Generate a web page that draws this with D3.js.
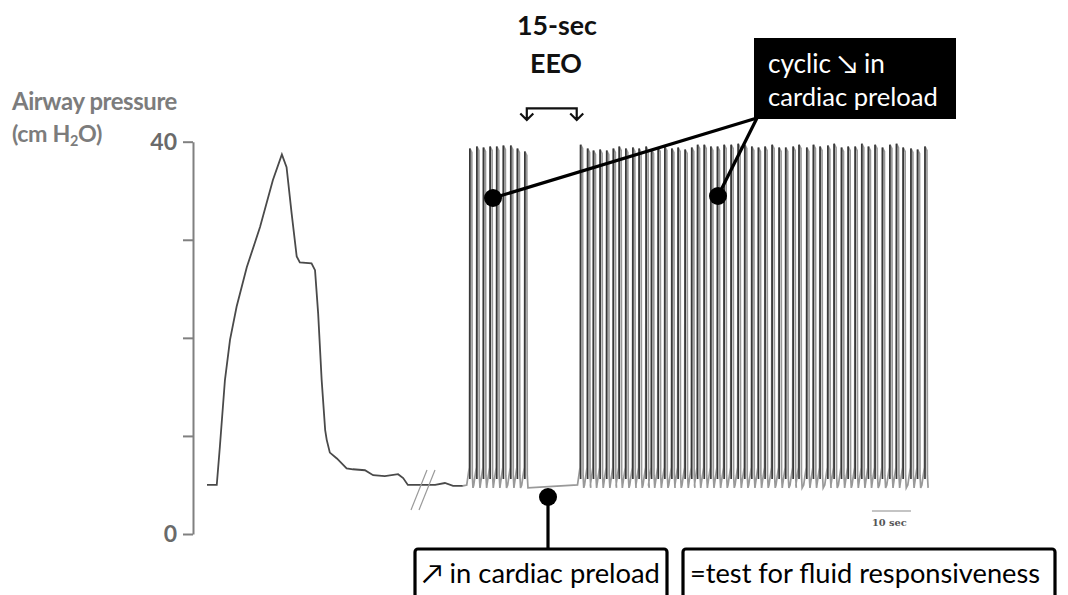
<!DOCTYPE html>
<html>
<head>
<meta charset="utf-8">
<script src="https://cdn.jsdelivr.net/npm/d3@7"></script>
<style>
body { margin: 0; background: #fff; }
svg { display: block; }
</style>
</head>
<body>
<script>
// slow breath before the break : time (s) / airway pressure (cm H2O)
let slowTime = [0, 2.5, 3.3, 4.6, 5.9, 7.6, 10.2, 13.6, 16.9, 19.2, 20.4, 21.7, 23.0, 23.8, 26.8, 27.7, 28.5, 29.4, 30.3, 30.7, 31.5, 33.3, 35.8, 37.4, 40.5, 42.6, 45.6, 49.0, 50.3, 51.5, 54.1, 58.5, 61.0, 63.1, 65.6];
let slowPressure = [5.0, 5.0, 8.9, 15.7, 19.8, 23.2, 27.2, 31.3, 36.1, 38.7, 37.4, 32.7, 28.3, 27.7, 27.6, 26.9, 22.5, 15.7, 10.6, 9.6, 8.3, 7.7, 6.7, 6.6, 6.5, 6.0, 5.9, 6.1, 5.7, 5.0, 5.0, 5.0, 5.2, 4.9, 4.9];

// ventilator breaths : onset time (s) and peak pressure (cm H2O)
let breathTime = [67.4, 69.2, 70.9, 72.6, 74.3, 76.0, 77.9, 79.6, 81.5,
  95.8, 97.6, 99.1, 100.8, 102.5, 104.2, 105.7, 107.4, 109.2, 110.8, 112.6, 114.0, 115.7, 117.4, 119.2, 120.8, 122.6, 124.3,
  125.8, 127.5, 129.2, 130.9, 132.6, 134.4, 136.2, 137.9, 139.7, 141.4, 143.1, 144.9, 146.7, 148.4, 150.3, 151.8, 153.8, 155.5,
  157.2, 159.2, 160.8, 162.7, 164.4, 166.2, 167.9, 169.6, 171.3, 173.2, 175.1, 176.8, 178.5, 180.5, 182.2, 184.1];
let breathPeak = [39.3, 39.5, 39.4, 39.5, 39.5, 39.6, 39.6, 39.3, 39.0,
  39.7, 39.3, 39.1, 39.2, 39.1, 39.3, 39.5, 39.3, 39.4, 39.3, 39.5, 39.2, 39.4, 39.5, 39.3, 39.4, 39.2, 39.4,
  39.7, 39.7, 39.5, 39.5, 39.7, 39.7, 39.8, 39.7, 39.5, 39.4, 39.5, 39.7, 39.4, 39.4, 39.5, 39.7, 39.4, 39.7,
  39.5, 39.6, 39.8, 39.4, 39.5, 39.5, 39.8, 39.5, 39.7, 39.4, 39.7, 39.8, 39.4, 39.3, 39.2, 39.5];

let yTicks = [0, 10, 20, 30, 40];
let eeo = [82.0, 94.8];   // end-expiratory occlusion
let scaleBarStart = 170.5, scaleBarSec = 10;

// shape of one breath relative to its onset
let shapeDt = [-0.8, -0.15, 0, 0.5, 0.62, 0.8];

let svg = d3.select("body").append("svg").attr("width", 1068).attr("height", 595);

let x = d3.scaleLinear().domain([0, 185]).range([207, 928.5]);
let y = d3.scaleLinear().domain([0, 40]).range([534, 141.7]);

function fit(sel, w) {
  let s = parseFloat(sel.attr("font-size"));
  let l = sel.node().getComputedTextLength();
  sel.attr("font-size", (s * w / l).toFixed(2));
}

// y axis
let ax = svg.append("g")
  .attr("transform", "translate(193,0)")
  .call(d3.axisLeft(y).tickValues(yTicks).tickSize(10).tickSizeOuter(0).tickPadding(6)
    .tickFormat(d => (d == 0 || d == 40) ? d : ""));
ax.selectAll("path, line").attr("stroke", "#808080").attr("stroke-width", 2);
ax.selectAll("text").attr("font-family", "Lato").attr("font-weight", "bold")
  .attr("font-size", 23).attr("fill", "#6a6a6a");

svg.append("text").attr("x", 12).attr("y", 110).attr("font-family", "Lato")
  .attr("font-weight", "bold").attr("font-size", 18).attr("fill", "#7c7c7c")
  .attr("letter-spacing", -0.4).text("Airway pressure").call(fit, 163);
let unit = svg.append("text").attr("x", 12).attr("y", 142).attr("font-family", "Lato")
  .attr("font-weight", "bold").attr("font-size", 18).attr("fill", "#7c7c7c").attr("letter-spacing", -0.4);
unit.append("tspan").text("(cm H");
unit.append("tspan").attr("font-size", "0.62em").attr("dy", 4).text("2");
unit.append("tspan").attr("dy", -4).text("O)");
unit.call(fit, 89);

let line = d3.line().x(d => x(d[0])).y(d => y(d[1]));

// slow breath
let slow = slowTime.map((t, i) => [t, slowPressure[i]]);
svg.append("path").attr("d", line(slow)).attr("fill", "none")
  .attr("stroke", "#4a4a4a").attr("stroke-width", 1.8);

// ventilator breaths
let pts = [slow[slow.length - 1]];
breathTime.forEach((t, i) => {
  let pk = breathPeak[i];
  let shapeP = [5.0, 6.8, pk, pk - 0.4, 6.0, 4.7];
  shapeDt.forEach((dt, k) => pts.push([t + dt, shapeP[k]]));
});
svg.append("path").attr("d", line(pts)).attr("fill", "none")
  .attr("stroke", "#999").attr("stroke-width", 1.7);
svg.selectAll(".up").data(breathTime).enter().append("line")
  .attr("class", "up")
  .attr("x1", d => x(d)).attr("x2", d => x(d))
  .attr("y1", y(5.6)).attr("y2", (d, i) => y(breathPeak[i]))
  .attr("stroke", "#383838").attr("stroke-width", 1.7);

// break marks
[[411, 427], [419, 435]].forEach(b => {
  svg.append("line").attr("x1", b[0]).attr("y1", 510).attr("x2", b[1]).attr("y2", 470)
    .attr("stroke", "#9a9a9a").attr("stroke-width", 1.2);
});

// scale bar
svg.append("line").attr("x1", x(scaleBarStart)).attr("x2", x(scaleBarStart + scaleBarSec))
  .attr("y1", 511).attr("y2", 511).attr("stroke", "#b0b0b0").attr("stroke-width", 1.5);
svg.append("text").attr("x", x(scaleBarStart)).attr("y", 526)
  .attr("font-family", "DejaVu Serif").attr("font-weight", "bold").attr("font-size", 10)
  .attr("fill", "#555").text("10 sec").call(fit, 35);

// EEO label and bracket
svg.append("text").attr("x", 557).attr("y", 35).attr("text-anchor", "middle")
  .attr("font-family", "Lato").attr("font-weight", "bold").attr("font-size", 26)
  .attr("fill", "#111").text("15-sec").call(fit, 80);
svg.append("text").attr("x", 556).attr("y", 73).attr("text-anchor", "middle")
  .attr("font-family", "Lato").attr("font-weight", "bold").attr("font-size", 26)
  .attr("fill", "#111").text("EEO").call(fit, 52);
let b0 = x(eeo[0]), b1 = x(eeo[1]);
svg.append("path")
  .attr("d", `M${b0},120V108.3H${b1}V120 M${b0 - 6.5},113.5L${b0},120L${b0 + 6.5},113.5 M${b1 - 6.5},113.5L${b1},120L${b1 + 6.5},113.5`)
  .attr("fill", "none").attr("stroke", "#111").attr("stroke-width", 2.2);

// top callout
svg.append("line").attr("x1", 757).attr("y1", 118).attr("x2", 493).attr("y2", 198)
  .attr("stroke", "#000").attr("stroke-width", 3.2);
svg.append("line").attr("x1", 757).attr("y1", 118).attr("x2", 718).attr("y2", 196)
  .attr("stroke", "#000").attr("stroke-width", 3.2);
svg.append("circle").attr("cx", 493).attr("cy", 198).attr("r", 9).attr("fill", "#000");
svg.append("circle").attr("cx", 718).attr("cy", 196).attr("r", 9).attr("fill", "#000");
svg.append("rect").attr("x", 754).attr("y", 38).attr("width", 202).attr("height", 81).attr("fill", "#000");
svg.append("text").attr("x", 768).attr("y", 73).attr("font-family", "Lato")
  .attr("font-size", 24).attr("fill", "#fff").text("cyclic \u2198 in").call(fit, 117);
svg.append("text").attr("x", 768).attr("y", 106).attr("font-family", "Lato")
  .attr("font-size", 24).attr("fill", "#fff").text("cardiac preload").call(fit, 170);

// bottom callout
svg.append("line").attr("x1", 548).attr("y1", 497).attr("x2", 548).attr("y2", 550)
  .attr("stroke", "#000").attr("stroke-width", 3.2);
svg.append("circle").attr("cx", 548).attr("cy", 497).attr("r", 9).attr("fill", "#000");
svg.append("rect").attr("x", 415).attr("y", 549).attr("width", 252).attr("height", 60).attr("rx", 3)
  .attr("fill", "#fff").attr("stroke", "#000").attr("stroke-width", 3.2);
svg.append("rect").attr("x", 683).attr("y", 549).attr("width", 372).attr("height", 60).attr("rx", 3)
  .attr("fill", "#fff").attr("stroke", "#000").attr("stroke-width", 3.2);
svg.append("text").attr("x", 422).attr("y", 583).attr("font-family", "Lato")
  .attr("font-size", 26).attr("fill", "#000").text("\u2197 in cardiac preload").call(fit, 238);
svg.append("text").attr("x", 690).attr("y", 583).attr("font-family", "Lato")
  .attr("font-size", 26).attr("fill", "#000").text("=test for fluid responsiveness").call(fit, 350);
</script>
</body>
</html>
